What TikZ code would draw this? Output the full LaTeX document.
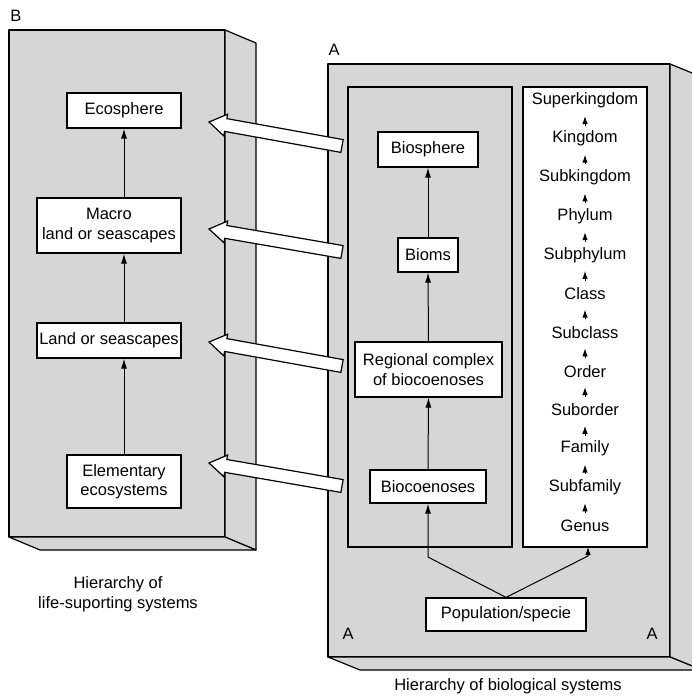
\documentclass[tikz,border=0pt]{standalone}
\usepackage{fontspec}
\setmainfont{Liberation Sans}
\usetikzlibrary{arrows.meta,calc}
\definecolor{boxgray}{RGB}{214,214,214}
\newcommand\figfont{\fontsize{16.5}{19.5}\selectfont}
\newcommand\blockarrow[2]{%
  \coordinate (hb) at ($(#2)!17pt!(#1)$);
  \draw[blk] ($(#1)!6.5pt!90:(#2)$) -- ($(hb)!6.5pt!90:(#2)$) -- ($(hb)!11pt!90:(#2)$) -- (#2)
    -- ($(hb)!11pt!-90:(#2)$) -- ($(hb)!6.5pt!-90:(#2)$) -- ($(#1)!6.5pt!-90:(#2)$) -- cycle;}
\begin{document}
\begin{tikzpicture}[x=1pt,y=-1pt,
  face/.style={draw=black, fill=boxgray, line width=1.2pt, line join=round},
  panel/.style={draw=black, line width=1.2pt},
  box/.style={draw=black, fill=white, line width=1.2pt, align=center, inner sep=0pt, font=\figfont},
  lbl/.style={font=\figfont, inner sep=0pt, align=center},
  arr/.style={line width=1pt, -{Latex[length=10pt,width=6pt]}},
  tarr/.style={line width=1pt, -{Latex[length=8pt,width=5.5pt]}},
  blk/.style={draw=black, fill=white, line width=1.2pt, line join=miter}
]
\useasboundingbox (0,0) rectangle (692,696);
\clip (0,0) rectangle (692,696);
\fill[white] (0,0) rectangle (692,696);
% box B
\draw[face] (9,30) rectangle (225,537);
\draw[face] (225,30) -- (256,43) -- (256,550) -- (225,537) -- cycle;
\draw[face] (9,537) -- (225,537) -- (256,550) -- (40,550) -- cycle;
% box A
\draw[face] (328,64) rectangle (670,657);
\draw[face] (670,64) -- (702,77) -- (702,670) -- (670,657) -- cycle;
\draw[face] (328,657) -- (670,657) -- (702,670) -- (360,670) -- cycle;
% panels
\draw[panel] (348,87) rectangle (512,547);
\draw[panel, fill=white] (523,87) rectangle (647,547);
% labels
\node[lbl] (lB) at (16,16) {B};
\node[lbl] (lA1) at (334,50) {A};
\node[lbl] (lA2) at (348,634) {A};
\node[lbl] (lA3) at (652,634) {A};
\node[lbl] (capB) at (118,594) {Hierarchy of\\life-suporting systems};
\node[lbl] (capA) at (508,686) {Hierarchy of biological systems};
% B nodes
\node[box, minimum width=114pt, minimum height=35pt] (eco) at (124,110.5) {Ecosphere};
\node[box, minimum width=144pt, minimum height=55pt] (macro) at (109,225.5) {Macro\\land or seascapes};
\node[box, minimum width=144pt, minimum height=35pt] (land) at (109,340.5) {Land or seascapes};
\node[box, minimum width=114pt, minimum height=53pt] (elem) at (124,481.5) {Elementary\\ecosystems};
\draw[arr] (macro.north -| eco.south) -- (eco.south);
\draw[arr] (land.north -| eco.south) -- (macro.south -| eco.south);
\draw[arr] (elem.north) -- (land.south -| elem.north);
% A nodes
\node[box, minimum width=100pt, minimum height=35pt] (bsph) at (428,149.5) {Biosphere};
\node[box, minimum width=60pt, minimum height=34pt] (bioms) at (428,255) {Bioms};
\node[box, minimum width=147pt, minimum height=55pt] (reg) at (428.5,369.5) {Regional complex\\of biocoenoses};
\node[box, minimum width=116pt, minimum height=33pt] (bcoen) at (428,486.5) {Biocoenoses};
\node[box, minimum width=160pt, minimum height=33pt] (pop) at (506,614.5) {Population/specie};
\draw[arr] (bioms.north) -- (bsph.south);
\draw[arr] (reg.north) -- (bioms.south);
\draw[arr] (bcoen.north) -- (reg.south);
% taxonomy
\foreach \n [count=\i] in {Superkingdom,Kingdom,Subkingdom,Phylum,Subphylum,Class,Subclass,Order,Suborder,Family,Subfamily,Genus}
  \node[lbl] (t\i) at (585,{100+38.73*(\i-1)}) {\n};
\foreach \i [count=\j from 2] in {1,...,11}
  \draw[tarr] ([yshift=13pt]t\j.center) -- ([yshift=-16pt]t\i.center);
% population connectors
\coordinate (jl) at (428,557);
\coordinate (jr) at (588,556);
\coordinate (gb) at (588,547);
\draw[arr, line join=miter] (pop.north) -- (jl) -- (bcoen.south);
\draw[tarr, line join=miter] (pop.north) -- (jr) -- (gb);
% block arrows
\coordinate (ta1) at (342,146); \coordinate (pa1) at (209,122);
\coordinate (ta2) at (342,252); \coordinate (pa2) at (209,229);
\coordinate (ta3) at (342,366); \coordinate (pa3) at (209,342);
\coordinate (ta4) at (342,486); \coordinate (pa4) at (209,463);
\blockarrow{ta1}{pa1}
\blockarrow{ta2}{pa2}
\blockarrow{ta3}{pa3}
\blockarrow{ta4}{pa4}
\end{tikzpicture}
\end{document}
